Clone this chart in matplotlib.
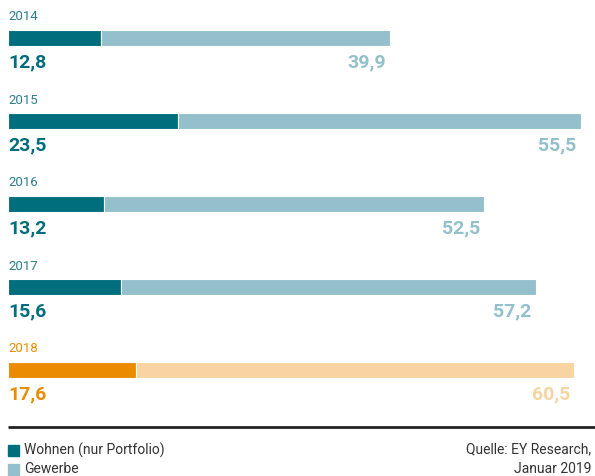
import matplotlib.pyplot as plt
from matplotlib.patches import Rectangle

plt.rcParams['font.family'] = ['Roboto', 'DejaVu Sans']

years = ['2014', '2015', '2016', '2017', '2018']
wohnen = [12.8, 23.5, 13.2, 15.6, 17.6]
gewerbe = [39.9, 55.5, 52.5, 57.2, 60.5]

teal_dark = '#006e7c'
teal_light = '#93c0ca'
orange_dark = '#eb8c00'
orange_light = '#f8d4a3'

W, H = 595, 476
fig = plt.figure(figsize=(W / 100, H / 100), dpi=100)
ax = fig.add_axes([0, 0, 1, 1])
# pixel-like coordinates: x in data units (7.25 px per unit, origin at px 8), y in px from top
px = 7.25
ax.set_xlim(-8 / px, (W - 8) / px)
ax.set_ylim(H, 0)
ax.axis('off')

for i, (yr, w, g) in enumerate(zip(years, wohnen, gewerbe)):
    yc = 38 + 83 * i
    dark, light = (orange_dark, orange_light) if i == len(years) - 1 else (teal_dark, teal_light)
    ax.barh(yc, w, height=16, left=0, color=dark, edgecolor='white', linewidth=0.8)
    ax.barh(yc, g, height=16, left=w, color=light, edgecolor='white', linewidth=0.8)
    ycolor = orange_dark if i == len(years) - 1 else '#2b7f8b'
    ax.text(0, yc - 21, yr, color=ycolor, fontsize=9.5, fontweight='normal',
            ha='left', va='center')
    ax.text(0, yc + 24, f'{w:.1f}'.replace('.', ','), color=dark, fontsize=14,
            fontweight='bold', ha='left', va='center')
    ax.text(w + g - 0.6, yc + 24, f'{g:.1f}'.replace('.', ','), color=light,
            fontsize=14, fontweight='bold', ha='right', va='center')

ax.plot([0, (W - 8) / px], [427, 427], color='#222222', lw=2, solid_capstyle='butt')

# legend
for j, (lab, c) in enumerate([('Wohnen (nur Portfolio)', teal_dark), ('Gewerbe', teal_light)]):
    yy = 450 + 19 * j
    ax.add_patch(Rectangle((0, yy - 5.5), 11 / px, 11, color=c))
    ax.text(16 / px, yy, lab, color='#333333', fontsize=10, ha='left', va='center')

ax.text((591 - 8) / px, 449, 'Quelle: EY Research,', color='#333333', fontsize=10,
        ha='right', va='center')
ax.text((591 - 8) / px, 469, 'Januar 2019', color='#333333', fontsize=10,
        ha='right', va='center')

fig.savefig('out.png', dpi=100)
